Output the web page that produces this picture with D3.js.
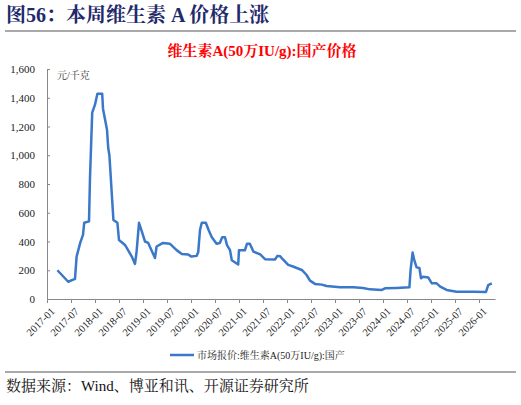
<!DOCTYPE html>
<html><head><meta charset="utf-8">
<script src="https://cdn.jsdelivr.net/npm/d3@7"></script>
<style>body{margin:0;background:#fff}svg{font-family:"Liberation Serif","Noto Serif CJK SC","Noto Sans CJK SC",serif}</style>
</head><body><svg id="c" width="521" height="405"></svg>
<script>
const months=[2.6,5.3,7,7.4,8.3,9,9.3,10.5,10.75,11.3,12,12.6,13.8,14,15,15.3,15.6,16.6,17.6,18,19.5,21.2,22,22.4,23,23.7,24.5,25.3,27,27.4,29,30.7,32.4,33.7,35.3,36.1,37.4,37.8,38.25,38.7,39.7,40.4,41.2,42.4,43.2,43.8,44.5,45,45.75,46.2,47.8,48,49.5,50,50.7,51.6,53.3,54.5,57,57.6,58.3,59,60.3,61.5,63.7,64.9,65.75,67,68.7,69.9,73.25,76.6,79,80.75,83.7,84.5,87.4,90.6,90.9,91.4,91.8,92.4,93.1,93.5,94,95.3,96.2,97.4,98.3,99.9,102.4,106.6,109.75,110.3,111.2];
const values=[200,120,140,295,390,446,530,540,843,1296,1352,1428,1428,1324,1178,1052,1000,550,530,410,376,295,244,330,530,470,400,390,285,365,390,385,340,313,310,295,300,325,480,530,530,480,430,385,390,430,430,375,340,270,240,340,340,385,385,330,310,277,275,300,297,275,237,226,202,167,128,105,100,90,81,81,77,67,63,74,77,81,202,323,272,220,216,144,155,150,109,109,86,63,51,51,49,97,109];
const yTicks=[0,200,400,600,800,1000,1200,1400,1600];
const xTickLabels=["2017-01","2017-07","2018-01","2018-07","2019-01","2019-07","2020-01","2020-07","2021-01","2021-07","2022-01","2022-07","2023-01","2023-07","2024-01","2024-07","2025-01","2025-07","2026-01"];
const svg=d3.select("#c");
const x=d3.scaleLinear().domain([0,112]).range([47,495]);
const y=d3.scaleLinear().domain([0,1600]).range([299,69]);
svg.append("text").attr("x",6).attr("y",22).attr("fill","#1F2A6B").attr("font-size",20).attr("font-weight","bold").text("图56：本周维生素 A 价格上涨");
svg.append("line").attr("x1",5).attr("x2",516).attr("y1",31).attr("y2",31).attr("stroke","#555").attr("stroke-width",1.2);
svg.append("text").attr("x",262).attr("y",56).attr("text-anchor","middle").attr("fill","#FF0000").attr("font-size",15).attr("font-weight","bold").text("维生素A(50万IU/g):国产价格");
const ya=svg.append("g").attr("transform","translate(47,0)").call(d3.axisRight(y).tickValues(yTicks).tickSize(3).tickFormat(d3.format(",")));
ya.select(".domain").attr("stroke","#888");ya.selectAll("line").attr("stroke","#888");
ya.selectAll("text").attr("x",-12).attr("text-anchor","end").attr("font-size",11).attr("fill","#222").attr("font-family","Liberation Serif");
const xa=svg.append("g").attr("transform","translate(0,299)").call(d3.axisBottom(x).tickValues(xTickLabels.map((d,i)=>i*6)).tickSize(4).tickSizeOuter(0).tickFormat((d,i)=>xTickLabels[i]));
xa.select(".domain").attr("stroke","#888");xa.selectAll("line").attr("stroke","#888");
xa.selectAll("text").attr("font-size",10.5).attr("fill","#222").attr("font-family","Liberation Serif").attr("text-anchor","end").attr("dy",0).attr("transform","translate(3,8) rotate(-45)");
svg.append("text").attr("x",57).attr("y",79).attr("font-size",10).attr("fill","#333").text("元/千克");
svg.append("path").datum(months.map((m,i)=>[m,values[i]])).attr("fill","none").attr("stroke","#3A78C9").attr("stroke-width",2.5).attr("stroke-linejoin","round").attr("d",d3.line().x(d=>x(d[0])).y(d=>y(d[1])));
svg.append("line").attr("x1",170).attr("x2",194).attr("y1",355).attr("y2",355).attr("stroke","#3A78C9").attr("stroke-width",2.5);
svg.append("text").attr("x",197).attr("y",359).attr("font-size",10).attr("fill","#222").text("市场报价:维生素A(50万IU/g):国产");
svg.append("line").attr("x1",5).attr("x2",516).attr("y1",372).attr("y2",372).attr("stroke","#555").attr("stroke-width",1);
svg.append("text").attr("x",6).attr("y",391).attr("font-size",15).attr("fill","#111").text("数据来源：Wind、博亚和讯、开源证券研究所");
</script></body></html>
